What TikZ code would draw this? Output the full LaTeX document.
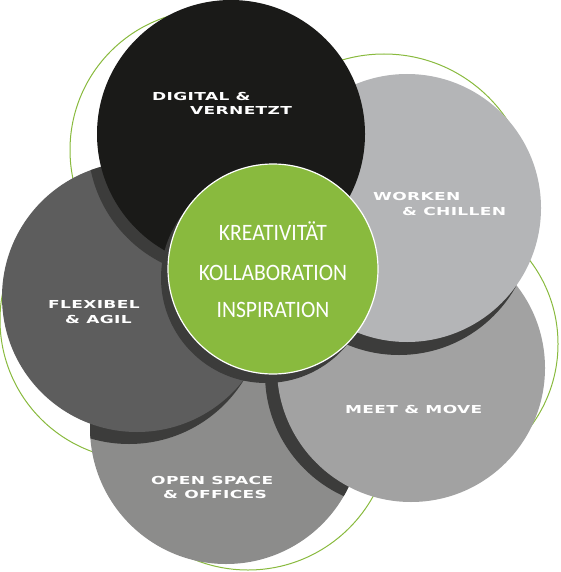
\documentclass[tikz,border=0pt]{standalone}
\usepackage{fontspec}
\usetikzlibrary{calc}
\newfontface\labfont{DejaVu Sans Bold}[FakeStretch=1.55,LetterSpace=3]
\newfontfamily\ctrfont{Carlito}[FakeStretch=0.92]
\definecolor{cgreen}{RGB}{137,186,62}
\definecolor{cblack}{RGB}{26,26,24}
\definecolor{cwork}{RGB}{180,181,183}
\definecolor{cmeet}{RGB}{162,162,162}
\definecolor{copen}{RGB}{140,140,139}
\definecolor{cflex}{RGB}{93,93,93}
\definecolor{cshadow}{RGB}{60,60,59}
\tikzset{
  ring/.style={draw=cgreen,line width=1pt},
  shade/.style={fill=cshadow},
  lab/.style={text=white,inner sep=0pt,anchor=base west,font=\labfont\fontsize{11}{12}\selectfont},
  ctr/.style={text=white,inner sep=0pt,anchor=base,font=\ctrfont\fontsize{23.5}{24}\selectfont}
}
\begin{document}
\begin{tikzpicture}[x=1pt,y=-1pt]
\useasboundingbox (0,0) rectangle (560,572);
% centres
\coordinate (cOpen) at (226,428);
\coordinate (cFlex) at (137,297);
\coordinate (cMeet) at (411,368);
\coordinate (cWork) at (407,208);
\coordinate (cDig) at (231,134);
\coordinate (cMid) at (273,269);
% green outline circles
\coordinate (gDig) at (210,150);
\coordinate (gWork) at (384,202);
\coordinate (gMeet) at (420,344);
\coordinate (gOpen) at (248,427);
\coordinate (gFlex) at (140,320);
\draw[ring] (gDig) circle (140pt);
\draw[ring] (gWork) circle (148pt);
\draw[ring] (gMeet) circle (138pt);
\draw[ring] (gOpen) circle (143pt);
\draw[ring] (gFlex) circle (140pt);
% open space
\fill[copen] (cOpen) circle (136pt);
% flexibel
\begin{scope}
  \clip (cOpen) circle (136pt);
  \fill[shade] ($(cFlex)+(-8,12)$) circle (135pt);
\end{scope}
\fill[cflex] (cFlex) circle (135pt);
% meet
\begin{scope}
  \clip (cOpen) circle (136pt) (cFlex) circle (135pt);
  \fill[shade] ($(cMeet)+(-12,6)$) circle (134pt);
\end{scope}
\fill[cmeet] (cMeet) circle (134pt);
% worken
\begin{scope}
  \clip (cOpen) circle (136pt) (cFlex) circle (135pt) (cMeet) circle (134pt);
  \fill[shade] ($(cWork)+(-8,13)$) circle (134pt);
\end{scope}
\fill[cwork] (cWork) circle (134pt);
% digital
\begin{scope}
  \clip (cOpen) circle (136pt) (cFlex) circle (135pt) (cMeet) circle (134pt) (cWork) circle (134pt);
  \fill[shade] ($(cDig)+(-9,9)$) circle (134pt);
\end{scope}
\fill[cblack] (cDig) circle (134pt);
% centre
\begin{scope}
  \clip (cOpen) circle (136pt) (cFlex) circle (135pt) (cMeet) circle (134pt) (cWork) circle (134pt) (cDig) circle (134pt);
  \fill[shade] ($(cMid)+(-7,9)$) circle (105pt);
\end{scope}
\fill[cgreen,draw=white,line width=1.2pt] (cMid) circle (105pt);
% labels
\node[lab] (dig1) at (152,101) {DIGITAL \&};
\node[lab] (dig2) at (190,115) {VERNETZT};
\node[lab] (work1) at (373,200) {WORKEN};
\node[lab] (work2) at (402,215) {\& CHILLEN};
\node[lab] (flex1) at (48,308) {FLEXIBEL};
\node[lab] (flex2) at (65,323) {\& AGIL};
\node[lab] (meet1) at (345,413) {MEET \& MOVE};
\node[lab] (open1) at (151,484) {OPEN SPACE};
\node[lab] (open2) at (163,498) {\& OFFICES};
\node[ctr] (k1) at (273,240.5) {KREATIVITÄT};
\node[ctr] (k2) at (273,280) {KOLLABORATION};
\node[ctr] (k3) at (273,317.5) {INSPIRATION};
\end{tikzpicture}
\end{document}
